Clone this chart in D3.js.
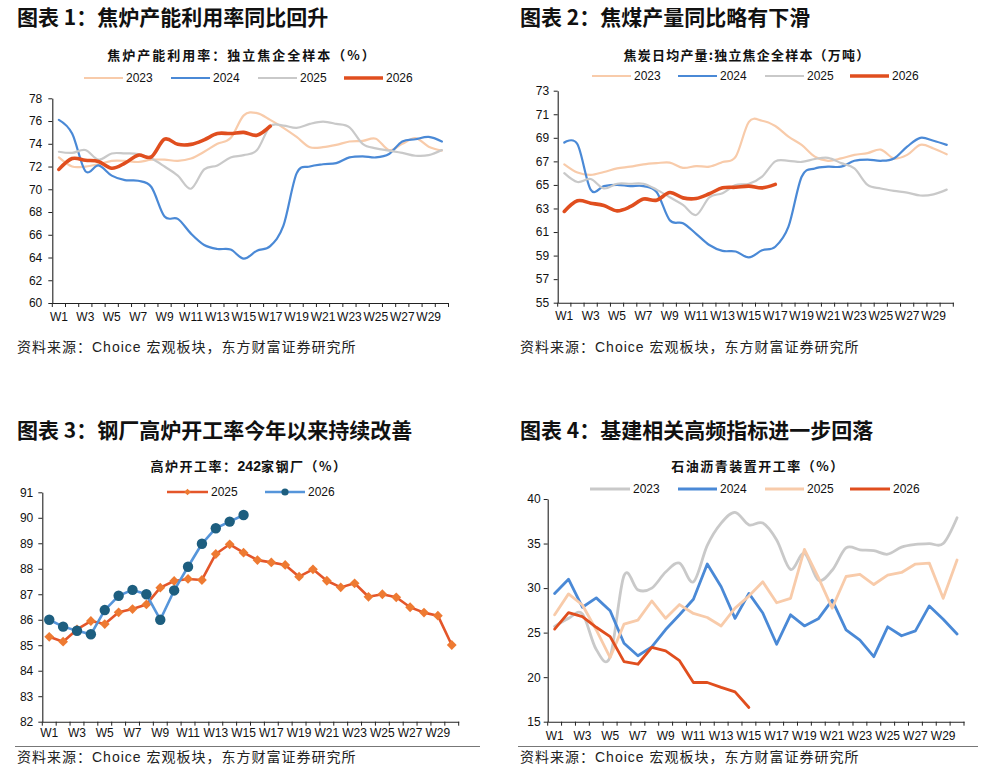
<!DOCTYPE html>
<html><head><meta charset="utf-8">
<script src="https://cdn.jsdelivr.net/npm/d3@7"></script>
<style>body{margin:0;background:#fff}svg{display:block}</style>
</head><body><svg id="c" width="997" height="771"></svg>
<script>
const weeks = d3.range(1, 31).map(i => "W" + i);
const weekLabels = weeks.filter((w, i) => i % 2 === 0);
const years = ["2023", "2024", "2025", "2026"];

// Panel 1: 焦炉产能利用率 (%)
const p1_2023 = [72.8,72.0,72.0,72.2,72.5,72.5,72.4,72.6,72.6,72.5,72.7,73.3,74.0,74.5,76.5,76.7,76.1,75.4,74.6,73.7,73.7,73.9,74.2,74.25,74.45,73.45,74.0,74.5,73.75,73.4];
const p1_2024 = [76.1,74.9,71.6,72.1,71.2,70.8,70.75,70.2,67.6,67.4,66.1,65.1,64.75,64.7,63.9,64.6,65.0,66.8,71.4,72.0,72.2,72.3,72.8,72.9,72.8,73.1,74.2,74.4,74.6,74.2];
const p1_2025 = [73.3,73.2,73.45,72.6,73.15,73.15,73.1,72.7,72.0,71.2,70.05,71.75,72.1,72.8,73.0,73.45,75.55,75.6,75.4,75.75,75.95,75.75,75.45,74.0,73.6,73.4,73.2,72.95,73.0,73.45];
const p1_2026 = [71.75,72.7,72.55,72.45,71.85,72.3,73.0,72.85,74.4,73.95,73.95,74.35,74.9,74.9,75.0,74.75,75.55];
const p1_yTicks = d3.range(60, 79, 2);

// Panel 2: 焦炭日均产量 (万吨)
const p2_2023 = [66.75,66.05,65.85,66.1,66.4,66.55,66.75,66.85,66.9,66.45,66.6,66.55,66.95,67.4,70.35,70.45,70.0,69.1,68.4,67.4,67.05,67.25,67.55,67.7,68.0,67.25,67.55,68.4,68.1,67.6];
const p2_2024 = [68.6,68.45,64.6,64.9,65.0,64.9,64.9,64.4,62.0,61.75,60.85,59.9,59.4,59.35,58.85,59.45,59.75,61.45,65.7,66.4,66.55,66.55,67.05,67.15,67.05,67.25,68.25,69.0,68.75,68.4];
const p2_2025 = [66.0,65.25,65.5,64.7,65.1,65.1,65.1,64.6,63.95,63.3,62.45,63.95,64.3,65.0,65.1,65.7,67.0,67.05,66.95,67.2,67.3,66.85,66.4,65.0,64.7,64.5,64.35,64.1,64.2,64.6];
const p2_2026 = [62.75,63.65,63.45,63.25,62.8,63.15,63.8,63.7,64.35,63.9,63.85,64.25,64.75,64.8,64.9,64.75,65.05];
const p2_yTicks = d3.range(55, 74, 2);

// Panel 3: 高炉开工率 (%)
const p3_2025 = [85.33,85.14,85.62,85.95,85.83,86.29,86.42,86.6,87.26,87.52,87.6,87.56,88.58,88.96,88.63,88.34,88.25,88.15,87.69,87.98,87.53,87.27,87.43,86.9,87.0,86.88,86.49,86.28,86.16,85.01];
const p3_2026 = [86.0,85.73,85.57,85.43,86.38,86.94,87.17,87.0,86.0,87.15,88.08,88.98,89.59,89.85,90.11];
const p3_yTicks = d3.range(82, 92, 1);

// Panel 4: 石油沥青装置开工率 (%)
const p4_2023 = [25.7,26.6,27.1,23.1,22.3,31.4,29.8,30.0,31.8,32.8,30.7,34.8,37.3,38.5,37.1,37.3,35.4,32.1,33.9,30.9,32.0,34.5,34.3,34.2,33.8,34.6,34.9,35.0,35.0,37.9];
const p4_2024 = [29.4,31.0,27.85,28.9,27.45,23.8,22.4,23.4,25.35,27.0,28.75,32.7,30.15,26.6,29.4,27.2,23.7,27.0,25.75,26.55,28.65,25.3,24.15,22.3,25.65,24.65,25.2,28.0,26.5,24.85];
const p4_2025 = [27.0,29.35,28.1,25.3,22.2,25.95,26.4,28.55,26.6,28.15,27.15,26.7,25.75,27.75,29.1,30.7,28.35,28.85,34.35,31.2,27.75,31.3,31.55,30.4,31.45,31.75,32.7,32.8,28.85,33.15];
const p4_2026 = [25.4,27.25,26.8,25.6,24.55,21.75,21.45,23.35,22.95,21.85,19.4,19.4,18.85,18.35,16.6];
const p4_yTicks = d3.range(15, 41, 5);

const CJK = "'Noto Sans CJK SC', sans-serif";
const LAT = "'Liberation Sans', Arial, 'Noto Sans CJK SC', sans-serif";
const C23 = "#F8CBAA", C24 = "#4A89D6", C25 = "#C9C9C9", C26 = "#E04E1E";
const svg = d3.select("#c");
const smooth = d3.curveCardinal.tension(0);

function header(x, yTitle, title, ySrc, xLineEnd, withLine) {
  svg.append("text").attr("x", x).attr("y", yTitle).attr("font-family", CJK)
    .attr("font-size", 21).attr("font-weight", "bold").attr("fill", "#111").text(title);
  if (withLine) {
    svg.append("line").attr("x1", x - 2).attr("x2", xLineEnd).attr("y1", ySrc - 15.5).attr("y2", ySrc - 15.5)
      .attr("stroke", "#777").attr("stroke-width", 1.2);
  }
  svg.append("text").attr("x", x).attr("y", ySrc).attr("font-family", LAT)
    .attr("font-size", 14).attr("letter-spacing", 1).attr("fill", "#222").text("资料来源：Choice 宏观板块，东方财富证券研究所");
}

function panel(o) {
  const g = svg.append("g");
  const x = d3.scaleBand().domain(weeks).range([o.x0, o.x1]);
  const y = d3.scaleLinear().domain(o.yDomain).range([o.yBot, o.yTop]);
  const cx = i => x(weeks[i]) + x.bandwidth() / 2;

  const ya = g.append("g").attr("transform", `translate(${o.x0},0)`)
    .call(d3.axisLeft(y).tickValues(o.yTicks).tickSize(4).tickPadding(o.yPad).tickSizeOuter(0));
  const xa = g.append("g").attr("transform", `translate(0,${o.yBot})`)
    .call(d3.axisBottom(x).tickValues(weekLabels).tickSize(0).tickPadding(o.xPad).tickSizeOuter(0));
  [ya, xa].forEach(a => {
    a.select(".domain").attr("stroke", "#222").attr("stroke-width", 1.1);
    a.selectAll(".tick line").attr("stroke", "#222");
    a.selectAll("text").attr("font-family", LAT).attr("font-size", 12).attr("fill", "#111");
  });
  g.append("g").selectAll("line").data(weeks.concat(["end"])).join("line")
    .attr("x1", d => d === "end" ? o.x1 : x(d)).attr("x2", d => d === "end" ? o.x1 : x(d))
    .attr("y1", o.yBot).attr("y2", o.yBot + 4).attr("stroke", "#222");

  o.chartTitle(g.append("text").attr("x", o.titleX).attr("y", o.titleY).attr("text-anchor", "middle")
    .attr("font-family", CJK).attr("font-size", 13).attr("font-weight", "bold")
    .attr("letter-spacing", o.titleLS).attr("fill", "#111"));

  o.series.forEach(s => {
    const line = d3.line().x((d, i) => cx(i)).y(d => y(d)).curve(s.curve || d3.curveLinear);
    g.append("path").attr("d", line(s.data)).attr("fill", "none")
      .attr("stroke", s.color).attr("stroke-width", s.width).attr("stroke-linejoin", "round")
      .attr("stroke-linecap", "round");
    if (s.marker === "diamond") {
      g.append("g").selectAll("path").data(s.data).join("path")
        .attr("d", d3.symbol(d3.symbolSquare, 48)())
        .attr("transform", (d, i) => `translate(${cx(i)},${y(d)}) rotate(45)`)
        .attr("fill", s.markerColor);
    } else if (s.marker === "circle") {
      g.append("g").selectAll("circle").data(s.data).join("circle")
        .attr("cx", (d, i) => cx(i)).attr("cy", d => y(d)).attr("r", 5.2)
        .attr("fill", s.markerColor);
    }
  });

  o.legend.forEach(L => {
    const s = o.series[L.idx];
    const lx = L.x, ly = o.legendY;
    g.append("line").attr("x1", lx).attr("x2", lx + L.len).attr("y1", ly).attr("y2", ly)
      .attr("stroke", s.color).attr("stroke-width", s.legendWidth || s.width);
    if (s.marker === "diamond") {
      g.append("path").attr("d", d3.symbol(d3.symbolSquare, 22)())
        .attr("transform", `translate(${lx + L.len / 2},${ly}) rotate(45)`).attr("fill", s.markerColor);
    } else if (s.marker === "circle") {
      g.append("circle").attr("cx", lx + L.len / 2).attr("cy", ly).attr("r", 3.6).attr("fill", s.markerColor);
    }
    g.append("text").attr("x", lx + L.len + 3).attr("y", ly + 4.3).attr("font-family", LAT)
      .attr("font-size", 12).attr("fill", "#111").text(s.name);
  });
}

header(17, 24.5, "图表 1：焦炉产能利用率同比回升", 352, 480, false);
header(520, 24.5, "图表 2：焦煤产量同比略有下滑", 352, 978, false);
header(17, 437.5, "图表 3：钢厂高炉开工率今年以来持续改善", 762, 480, true);
header(520, 437.5, "图表 4：基建相关高频指标进一步回落", 762, 978, true);

panel({
  x0: 52.3, x1: 448.5, yTop: 98.3, yBot: 303, yDomain: [60, 78], yTicks: p1_yTicks, yPad: 6, xPad: 9.5,
  titleX: 242, titleY: 59.5, titleLS: 2,
  chartTitle: t => t.text("焦炉产能利用率：独立焦企全样本（%）"),
  legendY: 78,
  series: [
    {name: "2023", data: p1_2023, color: C23, width: 2.2, curve: smooth},
    {name: "2024", data: p1_2024, color: C24, width: 2.2, curve: smooth},
    {name: "2025", data: p1_2025, color: C25, width: 2.2, curve: smooth},
    {name: "2026", data: p1_2026, color: C26, width: 3.6, curve: smooth}
  ],
  legend: [{idx: 0, x: 84, len: 39}, {idx: 1, x: 171, len: 39}, {idx: 2, x: 258, len: 39}, {idx: 3, x: 344, len: 39}]
});

panel({
  x0: 557.7, x1: 953.3, yTop: 90.7, yBot: 302.7, yDomain: [55, 73], yTicks: p2_yTicks, yPad: 4.5, xPad: 9,
  titleX: 747, titleY: 59.5, titleLS: 1.2,
  chartTitle: t => t.text("焦炭日均产量:独立焦企全样本（万吨）"),
  legendY: 76,
  series: [
    {name: "2023", data: p2_2023, color: C23, width: 2.2, curve: smooth},
    {name: "2024", data: p2_2024, color: C24, width: 2.2, curve: smooth},
    {name: "2025", data: p2_2025, color: C25, width: 2.2, curve: smooth},
    {name: "2026", data: p2_2026, color: C26, width: 3.6, curve: smooth}
  ],
  legend: [{idx: 0, x: 592, len: 39}, {idx: 1, x: 678, len: 39}, {idx: 2, x: 765, len: 39}, {idx: 3, x: 850, len: 39}]
});

panel({
  x0: 42.3, x1: 458.7, yTop: 492.3, yBot: 721.7, yDomain: [82, 91], yTicks: p3_yTicks, yPad: 5, xPad: 7,
  titleX: 249, titleY: 471, titleLS: 1.5,
  chartTitle: t => {
    t.append("tspan").text("高炉开工率：");
    t.append("tspan").attr("font-family", LAT).attr("font-size", 14).attr("letter-spacing", 0).text("242");
    t.append("tspan").text("家钢厂（%）");
  },
  legendY: 492,
  series: [
    {name: "2025", data: p3_2025, color: "#E4562A", width: 2.6, marker: "diamond", markerColor: "#EE7A32"},
    {name: "2026", data: p3_2026, color: "#5595DA", width: 2.6, marker: "circle", markerColor: "#1D5E7F"}
  ],
  legend: [{idx: 0, x: 167, len: 41}, {idx: 1, x: 265, len: 40}]
});

panel({
  x0: 547.7, x1: 964, yTop: 499, yBot: 721.7, yDomain: [15, 40], yTicks: p4_yTicks, yPad: 3, xPad: 10,
  titleX: 758, titleY: 470.5, titleLS: 1.5,
  chartTitle: t => t.text("石油沥青装置开工率（%）"),
  legendY: 489,
  series: [
    {name: "2023", data: p4_2023, color: C25, width: 2.8, curve: smooth},
    {name: "2024", data: p4_2024, color: C24, width: 2.8},
    {name: "2025", data: p4_2025, color: C23, width: 2.8},
    {name: "2026", data: p4_2026, color: C26, width: 2.8}
  ],
  legend: [{idx: 0, x: 590, len: 40}, {idx: 1, x: 678, len: 39}, {idx: 2, x: 765, len: 39}, {idx: 3, x: 850, len: 40}]
});
</script></body></html>
